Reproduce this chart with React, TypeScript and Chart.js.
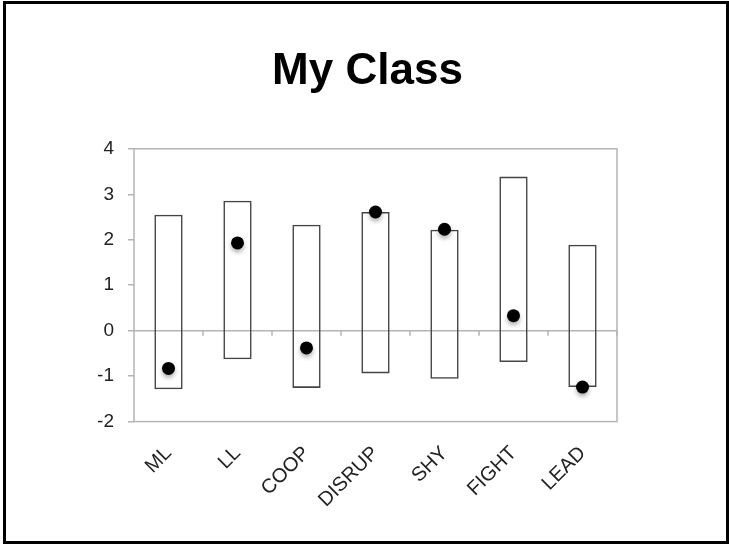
import React, { useEffect, useRef } from "react";
import { Chart, registerables } from "chart.js";

Chart.register(...registerables);

const chartTitle = "My Class";
const categories = ["ML", "LL", "COOP", "DISRUP", "SHY", "FIGHT", "LEAD"];
const rangeLow = [-1.29, -0.63, -1.26, -0.94, -1.06, -0.69, -1.24];
const rangeHigh = [2.55, 2.86, 2.33, 2.61, 2.22, 3.39, 1.89];
const classScores = [-0.83, 1.93, -0.38, 2.61, 2.23, 0.33, -1.24];
const yMin = -2;
const yMax = 4;
const yStep = 1;

const AXIS_GRAY = "#b4b4b4";
const FONT = "'Liberation Sans', Arial, Helvetica, sans-serif";

const framePlugin = {
  id: "frameBox",
  beforeDatasetsDraw(chart: any) {
    const { ctx, chartArea: a, scales } = chart;
    const y0 = scales.y.getPixelForValue(0);
    const xs = scales.x;
    ctx.save();
    ctx.strokeStyle = AXIS_GRAY;
    ctx.lineWidth = 1.5;
    ctx.strokeRect(a.left, a.top, a.right - a.left, a.bottom - a.top);
    ctx.beginPath();
    ctx.moveTo(a.left, y0);
    ctx.lineTo(a.right, y0);
    for (let i = 1; i <= categories.length; i++) {
      const x =
        i < categories.length
          ? (xs.getPixelForValue(i - 1) + xs.getPixelForValue(i)) / 2
          : a.right;
      ctx.moveTo(x, y0);
      ctx.lineTo(x, y0 + 5);
    }
    ctx.stroke();
    ctx.restore();
  },
};

const shadowPlugin = {
  id: "dotShadow",
  beforeDatasetDraw(chart: any, args: any) {
    if (args.index === 1) {
      const ctx = chart.ctx;
      ctx.save();
      ctx.shadowColor = "rgba(0,0,0,0.3)";
      ctx.shadowBlur = 4;
      ctx.shadowOffsetY = 3;
    }
  },
  afterDatasetDraw(chart: any, args: any) {
    if (args.index === 1) {
      chart.ctx.restore();
    }
  },
};

export default function App() {
  const canvasRef = useRef<HTMLCanvasElement | null>(null);

  useEffect(() => {
    if (!canvasRef.current) return;
    const chart = new Chart(canvasRef.current, {
      type: "bar",
      data: {
        labels: categories,
        datasets: [
          {
            type: "bar",
            label: "Range",
            data: categories.map((_, i) => [rangeLow[i], rangeHigh[i]]) as any,
            backgroundColor: "rgba(255,255,255,0)",
            borderColor: "#444",
            borderWidth: 1.6,
            borderSkipped: false,
            barPercentage: 0.41,
            categoryPercentage: 1,
            order: 2,
          },
          {
            type: "line",
            label: "Class",
            data: classScores,
            showLine: false,
            pointRadius: 6.5,
            pointBackgroundColor: "#000",
            pointBorderColor: "#000",
            pointBorderWidth: 0,
            order: 1,
          } as any,
        ],
      },
      options: {
        animation: false,
        responsive: false,
        devicePixelRatio: 1,
        layout: { padding: { left: 98, right: 92, top: 0, bottom: 12 } },
        plugins: {
          legend: { display: false },
          tooltip: { enabled: false },
          title: {
            display: true,
            text: chartTitle,
            color: "#000",
            font: { family: FONT, size: 44, weight: "bold" },
            padding: { top: 45, bottom: 51 },
          },
        },
        scales: {
          x: {
            type: "category",
            offset: true,
            grid: { display: false, drawTicks: false },
            border: { display: false },
            ticks: {
              minRotation: 45,
              maxRotation: 45,
              padding: 20,
              color: "#222",
              font: { family: FONT, size: 20 },
            },
          },
          y: {
            min: yMin,
            max: yMax,
            afterFit: (scale: any) => {
              scale.width = 36;
            },
            grid: {
              drawOnChartArea: false,
              drawTicks: true,
              tickLength: 6,
              tickColor: AXIS_GRAY,
              color: AXIS_GRAY,
              lineWidth: 1.5,
            },
            border: { display: false },
            ticks: {
              stepSize: yStep,
              padding: 14,
              color: "#222",
              font: { family: FONT, size: 19 },
            },
          },
          spacer: {
            type: "linear",
            position: "right",
            display: true,
            afterFit: (scale: any) => {
              scale.width = 20;
            },
            grid: { display: false, drawTicks: false },
            border: { display: false },
            ticks: { display: false },
          },
        },
      },
      plugins: [framePlugin, shadowPlugin],
    });
    return () => chart.destroy();
  }, []);

  return (
    <div
      style={{
        position: "fixed",
        left: 0,
        top: 0,
        width: 729,
        height: 544,
        background: "#fff",
      }}
    >
      <canvas ref={canvasRef} width={729} height={544} style={{ display: "block" }} />
      <div
        style={{
          position: "absolute",
          left: 3,
          top: 1,
          right: 0,
          bottom: 0,
          border: "3px solid #000",
          boxSizing: "border-box",
          pointerEvents: "none",
        }}
      />
    </div>
  );
}
